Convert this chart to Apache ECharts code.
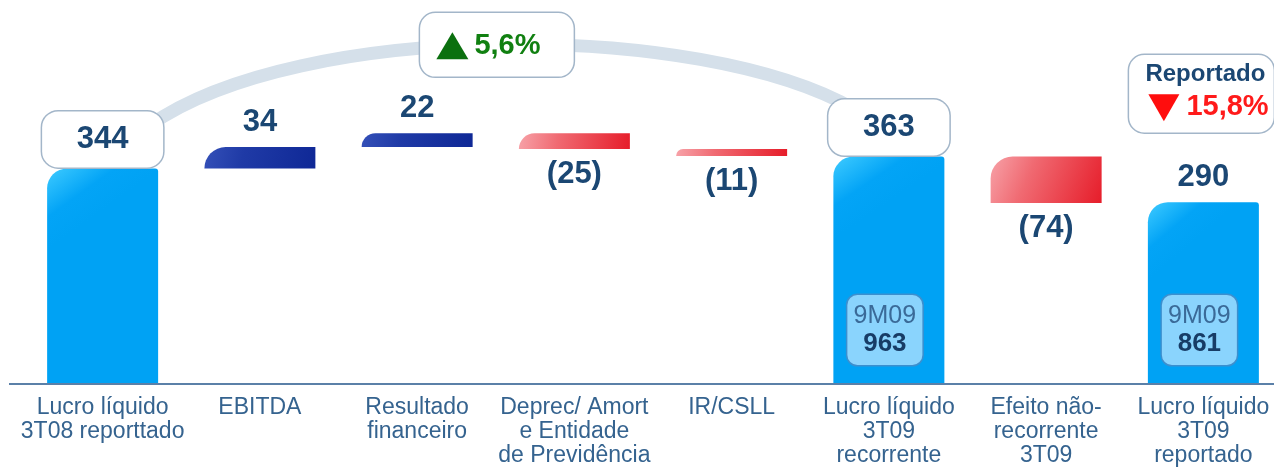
<!DOCTYPE html>
<html>
<head>
<meta charset="utf-8">
<script src="https://cdn.jsdelivr.net/npm/echarts@6/dist/echarts.min.js"></script>
<style>
html,body{margin:0;padding:0;background:#fff;overflow:hidden;}
#c{width:1290px;height:469px;}
</style>
</head>
<body>
<div id="c"></div>
<script>
// ---- data ----
const categories = [
  'Lucro líquido\n3T08 reporttado',
  'EBITDA',
  'Resultado\nfinanceiro',
  'Deprec/ Amort\ne Entidade\nde Previdência',
  'IR/CSLL',
  'Lucro líquido\n3T09\nrecorrente',
  'Efeito não-\nrecorrente\n3T09',
  'Lucro líquido\n3T09\nreportado'
];
const values = [344, 34, 22, -25, -11, 363, -74, 290];
const kinds = ['total', 'up', 'up', 'down', 'down', 'total', 'down', 'total'];
const valueLabels = ['344', '34', '22', '(25)', '(11)', '363', '(74)', '290'];
const ytdTitle = '9M09';
const ytdValues = [null, null, null, null, null, 963, null, 861];
const growthFrom = 0, growthTo = 5;
const growthText = '5,6%';
const reportTitle = 'Reportado';
const reportText = '15,8%';
const reportIndex = 7;

// ---- derived waterfall ----
const bases = [], heights = [];
let running = 0;
values.forEach((v, i) => {
  if (kinds[i] === 'total') { bases.push(0); heights.push(v); running = v; }
  else if (kinds[i] === 'up') { bases.push(running); heights.push(v); running += v; }
  else { running += v; bases.push(running); heights.push(-v); }
});

const FONT = '"Liberation Sans", Arial, sans-serif';
const NAVY = '#1b4773';
const grad = (c0, c1, c2) => new echarts.graphic.LinearGradient(0, 0, 1, 1, [
  {offset: 0, color: c0}, {offset: 0.35, color: c1}, {offset: 1, color: c2}]);
const styles = {
  total: {color: new echarts.graphic.LinearGradient(0, 0, 0.35, 0.25, [
    {offset: 0, color: '#3fcbff'}, {offset: 0.6, color: '#03a4f6'}, {offset: 1, color: '#00a2f4'}]),
    borderRadius: [20, 3, 0, 0]},
  up: {color: grad('#3450b8', '#1f3aa6', '#0f2896'), borderRadius: [22, 0, 0, 0]},
  down: {color: grad('#f7a2a8', '#f06a72', '#e61d2a'), borderRadius: [22, 0, 0, 0]}
};

const boxed = i => i === growthFrom || i === growthTo;

const visibleData = heights.map((h, i) => {
  const k = kinds[i];
  let label;
  if (k === 'total' && boxed(i)) {
    label = {position: 'top', distance: 1, backgroundColor: '#fff', borderColor: '#a3b6c9',
      borderWidth: 1.5, borderRadius: 16, width: 121, height: 56, lineHeight: 56,
      align: 'center'};
  } else if (k === 'down') {
    label = {position: 'bottom', distance: 10};
  } else {
    label = {position: 'top', distance: 9};
  }
  return {value: h, itemStyle: styles[k], label: label};
});

const chart = echarts.init(document.getElementById('c'), null, {renderer: 'canvas'});
chart.setOption({
  animation: false,
  grid: {left: 24, width: 1258, top: 8, height: 376},
  xAxis: {
    type: 'category', data: categories,
    axisLine: {show: false}, axisTick: {show: false},
    axisLabel: {interval: 0, margin: 12, fontSize: 23, lineHeight: 24, color: '#35638f', fontFamily: FONT}
  },
  yAxis: {type: 'value', min: 0, max: 600, show: false},
  series: [
    {type: 'bar', stack: 'w', data: bases, barWidth: 111, silent: true,
      itemStyle: {color: 'rgba(0,0,0,0)'}},
    {type: 'bar', stack: 'w', data: visibleData, barWidth: 111,
      label: {show: true, fontSize: 31, fontWeight: 'bold', color: NAVY, fontFamily: FONT,
        formatter: p => valueLabels[p.dataIndex]}},
    {type: 'bar', barGap: '-100%', barWidth: 111, silent: true,
      itemStyle: {color: 'rgba(0,0,0,0)'},
      data: ytdValues.map((y, i) => y == null ? '-' : heights[i]),
      label: {show: true, position: 'insideBottom', distance: 19, offset: [-4, 0],
        formatter: p => '{t|' + ytdTitle + '}\n{v|' + ytdValues[p.dataIndex] + '}',
        backgroundColor: '#8ad4fd', borderColor: '#3c8fce', borderWidth: 1.5, borderRadius: 10,
        padding: [7, 2, 7, 2], width: 71, align: 'center',
        rich: {
          t: {fontSize: 25, color: '#3a6a98', lineHeight: 28, fontFamily: FONT, align: 'center'},
          v: {fontSize: 26, fontWeight: 'bold', color: '#173c66', lineHeight: 28, fontFamily: FONT, align: 'center'}
        }}}
  ]
});

// ---- annotations anchored on the chart scale ----
const px = (i, v) => chart.convertToPixel({gridIndex: 0}, [i, v]);
const s = px(growthFrom, heights[growthFrom]);
const e = px(growthTo, heights[growthTo]);
const p0 = [s[0] + 47, s[1] - 43];
const p3 = [e[0] - 34, e[1] - 47];
const c1 = [p0[0] + 150, 20];
const c2 = [p3[0] - 155, 20];
const mid = [0.125 * p0[0] + 0.375 * c1[0] + 0.375 * c2[0] + 0.125 * p3[0],
             0.125 * p0[1] + 0.375 * c1[1] + 0.375 * c2[1] + 0.125 * p3[1]];
const base0 = px(0, 0);
const r = px(reportIndex, heights[reportIndex]);

const gbx = mid[0] - 81, gby = mid[1] - 32;
const rbx = r[0] - 75, rby = r[1] - 148;

chart.setOption({
  graphic: [
    {type: 'bezierCurve', z: 0, silent: true,
      shape: {x1: p0[0], y1: p0[1], cpx1: c1[0], cpy1: c1[1], cpx2: c2[0], cpy2: c2[1], x2: p3[0], y2: p3[1]},
      style: {stroke: '#d5e0ea', lineWidth: 13, fill: null}},
    {type: 'line', z: 50, silent: true,
      shape: {x1: 9, y1: base0[1], x2: 1290, y2: base0[1]},
      style: {stroke: '#5b80a8', lineWidth: 2}},
    {type: 'rect', z: 60, silent: true,
      shape: {x: gbx, y: gby, width: 155, height: 65, r: 16},
      style: {fill: '#fff', stroke: '#a3b6c9', lineWidth: 1.5}},
    {type: 'polygon', z: 61, silent: true,
      shape: {points: [[gbx + 17, gby + 47], [gbx + 33, gby + 20], [gbx + 49, gby + 47]]},
      style: {fill: '#0b700f'}},
    {type: 'text', z: 61, silent: true,
      style: {x: gbx + 55, y: gby + 34, text: growthText, fill: '#118011',
        font: 'bold 29px ' + FONT, textVerticalAlign: 'middle', textAlign: 'left'}},
    {type: 'rect', z: 60, silent: true,
      shape: {x: rbx, y: rby, width: 146, height: 79, r: 16},
      style: {fill: '#fff', stroke: '#a3b6c9', lineWidth: 1.5}},
    {type: 'text', z: 61, silent: true,
      style: {x: rbx + 77, y: rby + 20, text: reportTitle, fill: NAVY,
        font: 'bold 24px ' + FONT, textVerticalAlign: 'middle', textAlign: 'center'}},
    {type: 'polygon', z: 61, silent: true,
      shape: {points: [[rbx + 20, rby + 40], [rbx + 51, rby + 40], [rbx + 35.5, rby + 67]]},
      style: {fill: '#ff0d0d'}},
    {type: 'text', z: 61, silent: true,
      style: {x: rbx + 58, y: rby + 53, text: reportText, fill: '#ff1a1a',
        font: 'bold 29px ' + FONT, textVerticalAlign: 'middle', textAlign: 'left'}}
  ]
});
</script>
</body>
</html>
